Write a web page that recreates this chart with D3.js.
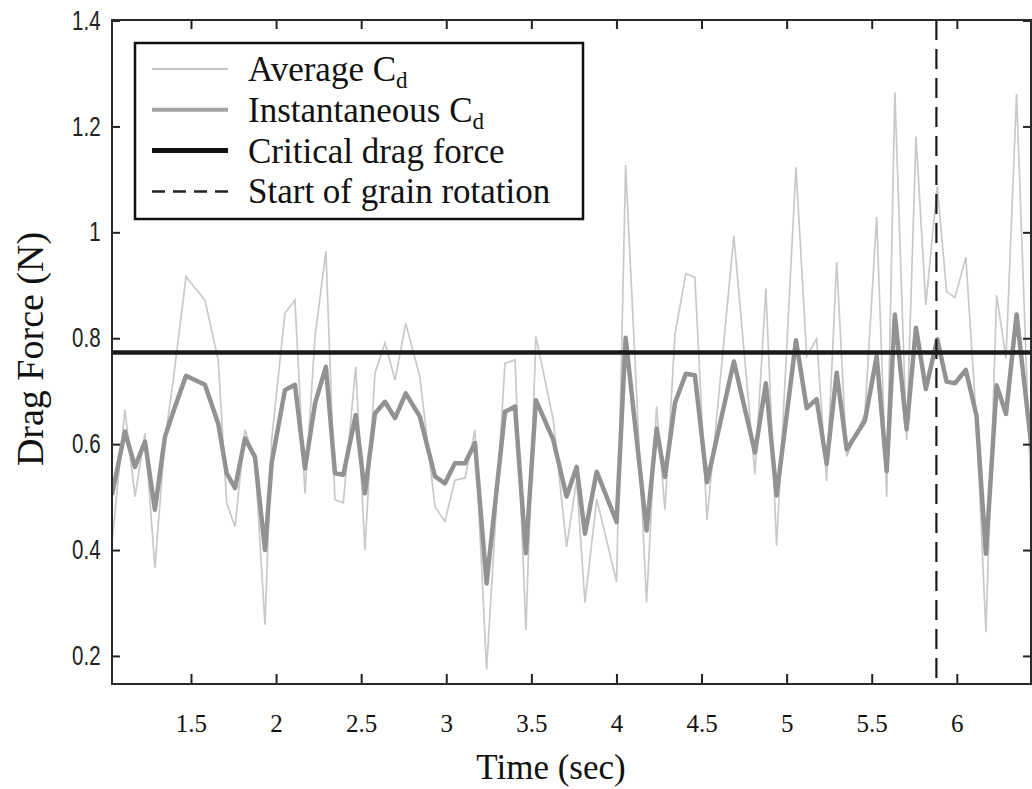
<!DOCTYPE html>
<html>
<head>
<meta charset="utf-8">
<script src="https://cdn.jsdelivr.net/npm/d3@7"></script>
<style>
  body { margin: 0; background: #fff; }
  svg { display: block; }
</style>
</head>
<body>
<div id="chart"></div>
<script>
// time samples (sec) and drag force (N)
const time = [1.036,1.112,1.171,1.230,1.288,1.347,1.396,1.471,1.582,1.660,
  1.710,1.759,1.817,1.876,1.935,1.974,2.052,2.111,2.170,2.229,
  2.293,2.346,2.395,2.468,2.522,2.581,2.640,2.699,2.762,2.845,
  2.934,2.992,3.051,3.110,3.169,3.237,3.345,3.404,3.468,3.527,
  3.629,3.707,3.766,3.815,3.884,4.001,4.054,4.177,4.236,4.285,
  4.344,4.408,4.461,4.532,4.690,4.814,4.878,4.941,5.055,5.118,
  5.176,5.235,5.294,5.353,5.460,5.529,5.588,5.636,5.705,5.760,
  5.818,5.885,5.940,5.989,6.053,6.116,6.171,6.234,6.289,6.351,
  6.441];

const instantCd = [0.504,0.624,0.557,0.605,0.476,0.614,0.661,0.729,0.712,0.639,
  0.545,0.517,0.611,0.576,0.400,0.564,0.702,0.712,0.554,0.677,
  0.746,0.545,0.542,0.655,0.507,0.658,0.680,0.649,0.696,0.652,
  0.539,0.526,0.564,0.564,0.602,0.337,0.661,0.671,0.394,0.683,
  0.608,0.501,0.557,0.431,0.548,0.453,0.801,0.437,0.629,0.538,
  0.678,0.733,0.730,0.528,0.756,0.584,0.715,0.503,0.796,0.668,
  0.685,0.563,0.735,0.590,0.644,0.766,0.549,0.845,0.628,0.820,
  0.704,0.798,0.718,0.715,0.740,0.653,0.393,0.711,0.657,0.845,
  0.588];

const averageCd = [0.413,0.665,0.501,0.621,0.366,0.608,0.721,0.916,0.872,0.759,
  0.489,0.444,0.627,0.570,0.259,0.608,0.847,0.872,0.507,0.803,
  0.964,0.495,0.489,0.746,0.400,0.734,0.791,0.721,0.828,0.727,
  0.482,0.454,0.532,0.536,0.627,0.174,0.753,0.759,0.249,0.803,
  0.646,0.406,0.532,0.301,0.496,0.340,1.127,0.301,0.671,0.476,
  0.808,0.922,0.915,0.457,0.993,0.543,0.894,0.408,1.123,0.766,
  0.799,0.530,0.944,0.577,0.658,1.029,0.500,1.264,0.608,1.181,
  0.863,1.087,0.888,0.877,0.953,0.639,0.245,0.881,0.762,1.261,
  0.458];

const criticalForce = 0.773;
const rotationStart = 5.88;

const xTicks = [1.5, 2, 2.5, 3, 3.5, 4, 4.5, 5, 5.5, 6];
const yTicks = [0.2, 0.4, 0.6, 0.8, 1, 1.2, 1.4];

const legendItems = [
  { label: "Average C", sub: "d", color: "#c6c6c6", width: 2, dash: null },
  { label: "Instantaneous C", sub: "d", color: "#a2a2a2", width: 4, dash: null },
  { label: "Critical drag force", sub: "", color: "#111", width: 5, dash: null },
  { label: "Start of grain rotation", sub: "", color: "#222", width: 2.5, dash: "13,8" }
];

// chart size
const width = 1032;
const height = 789;
const box = { left: 112, right: 1031, top: 20, bottom: 684 };
const serif = "'Liberation Serif', 'Times New Roman', serif";

const svg = d3.select("#chart")
  .append("svg")
  .attr("width", width)
  .attr("height", height);

svg.append("rect").attr("width", width).attr("height", height).attr("fill", "#fff");

// scales
const x = d3.scaleLinear().domain([1.036, 6.43]).range([box.left, box.right - 1]);
const y = d3.scaleLinear().domain([0.147, 1.401]).range([box.bottom, box.top]);

svg.append("clipPath").attr("id", "plot-clip")
  .append("rect")
  .attr("x", box.left).attr("y", box.top)
  .attr("width", box.right - box.left).attr("height", box.bottom - box.top);

const data = time.map((t, i) => ({ t: t, avg: averageCd[i], inst: instantCd[i] }));

const plot = svg.append("g").attr("clip-path", "url(#plot-clip)");

// average Cd (thin light line)
plot.append("path")
  .datum(data)
  .attr("fill", "none")
  .attr("stroke", "#c9c9c9")
  .attr("stroke-width", 1.7)
  .attr("d", d3.line().x(d => x(d.t)).y(d => y(d.avg)));

// instantaneous Cd (thick grey line)
plot.append("path")
  .datum(data)
  .attr("fill", "none")
  .attr("stroke", "#929292")
  .attr("stroke-width", 4.5)
  .attr("stroke-linejoin", "round")
  .attr("d", d3.line().x(d => x(d.t)).y(d => y(d.inst)));

// critical drag force
plot.append("line")
  .attr("x1", box.left).attr("x2", box.right)
  .attr("y1", y(criticalForce)).attr("y2", y(criticalForce))
  .attr("stroke", "#1a1a1a")
  .attr("stroke-width", 4.5);

// start of grain rotation
plot.append("line")
  .attr("x1", x(rotationStart)).attr("x2", x(rotationStart))
  .attr("y1", box.top).attr("y2", box.bottom)
  .attr("stroke", "#1a1a1a")
  .attr("stroke-width", 2.2)
  .attr("stroke-dasharray", "20,9");

// axes (ticks point inward)
const fmt = d3.format("");

const xAxis = svg.append("g")
  .attr("transform", `translate(0, ${box.bottom})`)
  .call(d3.axisBottom(x).tickValues(xTicks).tickFormat(fmt).tickSizeInner(-10).tickSizeOuter(0).tickPadding(30));
xAxis.selectAll("text")
  .style("font-family", serif)
  .style("font-size", "25px")
  .attr("fill", "#111");

svg.append("g")
  .attr("transform", `translate(0, ${box.top})`)
  .call(d3.axisTop(x).tickValues(xTicks).tickFormat("").tickSizeInner(-9).tickSizeOuter(0));

const yAxis = svg.append("g")
  .attr("transform", `translate(${box.left}, 0)`)
  .call(d3.axisLeft(y).tickValues(yTicks).tickFormat(fmt).tickSizeInner(-8).tickSizeOuter(0).tickPadding(15));
// condensed look of the original tick labels
yAxis.selectAll("text")
  .style("font-family", "'Liberation Sans', Arial, sans-serif")
  .style("font-size", "27px")
  .attr("transform", "scale(0.76,1)")
  .attr("fill", "#222");

svg.append("g")
  .attr("transform", `translate(${box.right}, 0)`)
  .call(d3.axisRight(y).tickValues(yTicks).tickFormat("").tickSizeInner(-8).tickSizeOuter(0));

svg.selectAll(".domain").remove();
svg.selectAll(".tick line").attr("stroke", "#222").attr("stroke-width", 2);

// axes box
svg.append("rect")
  .attr("x", box.left).attr("y", box.top)
  .attr("width", box.right - box.left).attr("height", box.bottom - box.top)
  .attr("fill", "none")
  .attr("stroke", "#2a2a2a")
  .attr("stroke-width", 2);

// axis titles
svg.append("text")
  .attr("x", 551).attr("y", 779)
  .attr("text-anchor", "middle")
  .style("font-family", serif)
  .style("font-size", "35px")
  .attr("fill", "#111")
  .text("Time (sec)");

svg.append("text")
  .attr("transform", "translate(43, 349) rotate(-90)")
  .attr("text-anchor", "middle")
  .style("font-family", serif)
  .style("font-size", "38px")
  .attr("fill", "#111")
  .text("Drag Force (N)");

// legend
const legend = svg.append("g");
legend.append("rect")
  .attr("x", 135).attr("y", 43)
  .attr("width", 448).attr("height", 176)
  .attr("fill", "#fff")
  .attr("stroke", "#111")
  .attr("stroke-width", 2.5);

const rows = legend.selectAll("g.row")
  .data(legendItems)
  .join("g")
  .attr("class", "row")
  .attr("transform", (d, i) => `translate(0, ${69 + i * 40.8})`);

rows.append("line")
  .attr("x1", 152).attr("x2", 228)
  .attr("stroke", d => d.color)
  .attr("stroke-width", d => d.width)
  .attr("stroke-dasharray", d => d.dash);

const labels = rows.append("text")
  .attr("x", 248).attr("y", 12)
  .style("font-family", serif)
  .style("font-size", "35px")
  .attr("fill", "#111");
labels.append("tspan").text(d => d.label);
labels.append("tspan")
  .attr("dy", 7)
  .style("font-size", "23px")
  .text(d => d.sub);
</script>
</body>
</html>
